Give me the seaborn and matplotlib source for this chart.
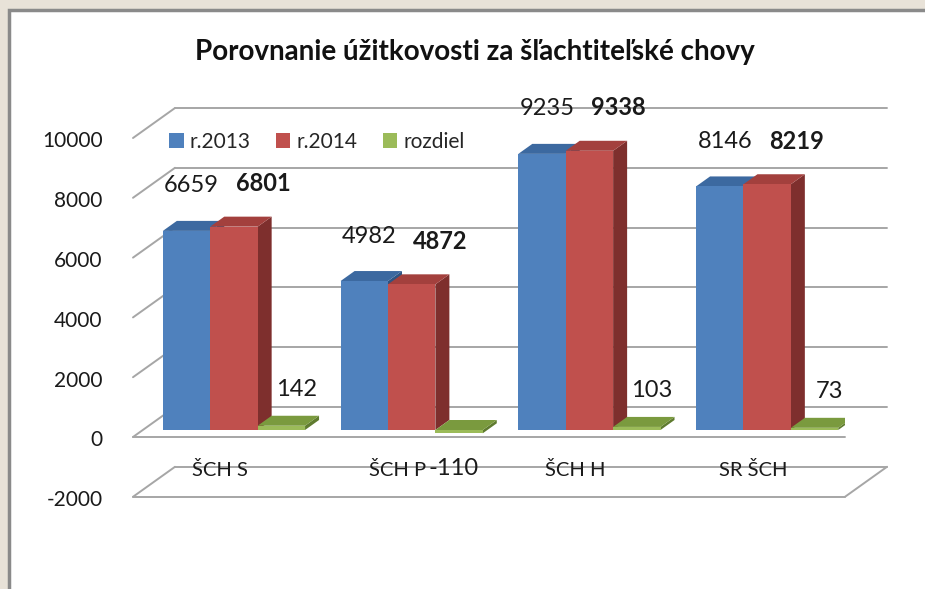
import numpy as np
import pandas as pd
import matplotlib
matplotlib.use('Agg')
import matplotlib.pyplot as plt
from matplotlib.patches import Polygon, Rectangle
from matplotlib.transforms import ScaledTranslation
import seaborn as sns

kategorie = ['ŠCH S', 'ŠCH P', 'ŠCH H', 'SR ŠCH']
serie = ['r.2013', 'r.2014', 'rozdiel']
r2013 = [6659, 4982, 9235, 8146]
r2014 = [6801, 4872, 9338, 8219]
rozdiel = [142, -110, 103, 73]
y_ticks = [-2000, 0, 2000, 4000, 6000, 8000, 10000]

farby = ['#4F81BD', '#C0504D', '#9BBB59']
farby_vrch = ['#3C69A0', '#A3403D', '#7A9A3E']
farby_bok = ['#2E5482', '#7E2F2D', '#5F7B2F']

df = pd.DataFrame({
    'kategoria': kategorie * 3,
    'serie': np.repeat(serie, len(kategorie)),
    'hodnota': r2013 + r2014 + rozdiel,
})

sns.set_theme(style='white')
plt.rcParams['font.family'] = ['Lato', 'DejaVu Sans']

W, H = 925, 589
fig = plt.figure(figsize=(W / 100, H / 100), dpi=100)
fig.patch.set_facecolor('#e8e2d8')
fig.add_artist(Rectangle((9 / W, -0.05), 1.1, (H - 10) / H + 0.05, transform=fig.transFigure,
                         facecolor='white', edgecolor='#8a8a8a', linewidth=2.5, zorder=-10))

ax = fig.add_axes([133 / W, 1 - 540 / H, 712 / W, 440 / H])
ax.set_facecolor('none')

sns.barplot(data=df, x='kategoria', y='hodnota', hue='serie', palette=farby,
            saturation=1, width=0.8, linewidth=0, ax=ax)

# pixel layout: 0 -> 430 px from top, 0.0299 px per unit
ax.set_xlim(-0.568, 3.438)
ax.set_ylim((430 - 540) / 0.0299, (430 - 100) / 0.0299)
sns.despine(ax=ax, left=True, bottom=True)
ax.set_xlabel('')
ax.set_ylabel('')
ax.set_xticks([])

sx = ax.transData.transform((1, 0))[0] - ax.transData.transform((0, 0))[0]
sy = ax.transData.transform((0, 1))[1] - ax.transData.transform((0, 0))[1]
x0, x1 = ax.get_xlim()

# 3d walls / gridlines
sivá = '#a6a6a6'
zx, zy = 42 / sx, 23 / sy   # back wall offset
fy = -7 / sy                # front edge offset
for t in y_ticks:
    ax.plot([x0, x0 + zx], [t + fy, t + zy], color=sivá, lw=1.4, clip_on=False, zorder=0)
    ax.plot([x0 + zx, x1 + zx], [t + zy, t + zy], color=sivá, lw=1.4, clip_on=False, zorder=0)
for t in [0, -2000]:
    ax.plot([x0, x1], [t + fy, t + fy], color=sivá, lw=1.4, clip_on=False, zorder=0)
ax.plot([x1, x1 + zx], [-2000 + fy, -2000 + zy], color=sivá, lw=1.4, clip_on=False, zorder=0)

ax.set_yticks(y_ticks)
ax.set_yticklabels([str(t) for t in y_ticks])
ax.tick_params(axis='y', length=0, pad=22, labelsize=15, labelcolor='#1a1a1a')
for lab in ax.get_yticklabels():
    lab.set_transform(lab.get_transform() + ScaledTranslation(0, -6 / 72, fig.dpi_scale_trans))

# bar depth faces
hx, hy = 14 / sx, 10 / sy
for j, cont in enumerate(ax.containers):
    for p in cont.patches:
        x, w = p.get_x(), p.get_width()
        y0, y1 = min(p.get_y(), p.get_y() + p.get_height()), max(p.get_y(), p.get_y() + p.get_height())
        p.set_zorder(2.5 + j)
        ax.add_patch(Polygon([(x + w, y0), (x + w + hx, y0 + hy), (x + w + hx, y1 + hy), (x + w, y1)],
                             closed=True, facecolor=farby_bok[j], lw=0, zorder=2 + j))
        ax.add_patch(Polygon([(x, y1), (x + hx, y1 + hy), (x + w + hx, y1 + hy), (x + w, y1)],
                             closed=True, facecolor=farby_vrch[j], lw=0, zorder=2 + j))

# data labels
posuny = [(5, 45), (29, 43), (15, 36)]
for j, cont in enumerate(ax.containers):
    for p in cont.patches:
        v = round(p.get_height())
        dx, dy = posuny[j]
        if v < 0:
            dx, dy = -6, -35
        ax.annotate(str(v), xy=(p.get_x() + p.get_width() / 2, v), xytext=(dx, dy),
                    textcoords='offset pixels', ha='center', va='center', fontsize=17,
                    fontweight='bold' if j == 1 else 'normal', color='#1a1a1a', zorder=10)

for i, k in enumerate(kategorie):
    ax.text(i - 14 / sx, -40 / sy, k, ha='center', va='center', fontsize=14.5, color='#1a1a1a')

sns.move_legend(ax, 'center left', bbox_to_anchor=(169 / W, 1 - 142 / H),
                bbox_transform=fig.transFigure, ncol=3, frameon=False, title=None,
                fontsize=15, handlelength=0.7, handleheight=0.7, handletextpad=0.3,
                columnspacing=1.2, borderpad=0, borderaxespad=0)

fig.text(475 / W, 1 - 52 / H, 'Porovnanie úžitkovosti za šľachtiteľské chovy',
         ha='center', va='center', fontsize=20, fontweight='bold', color='#111111')

fig.savefig('out.png', dpi=100, facecolor=fig.get_facecolor())
